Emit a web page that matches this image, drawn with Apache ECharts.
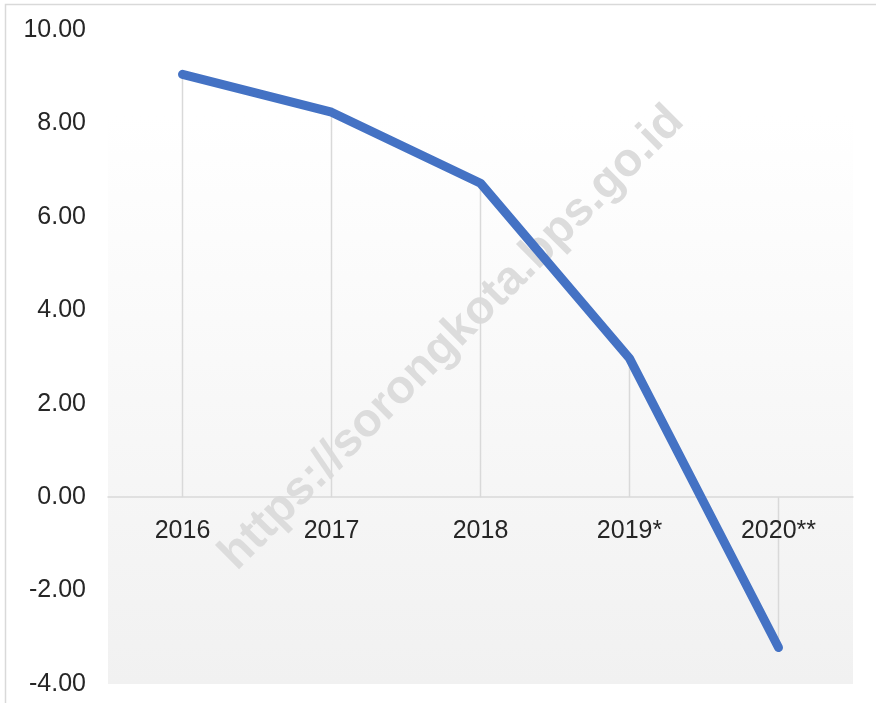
<!DOCTYPE html>
<html>
<head>
<meta charset="utf-8">
<script src="https://cdn.jsdelivr.net/npm/echarts@6/dist/echarts.min.js"></script>
<style>
  html, body { margin: 0; padding: 0; background: #fff; }
  #container { width: 876px; height: 703px; }
</style>
</head>
<body>
<div id="container"></div>
<script>
var years = ['2016', '2017', '2018', '2019*', '2020**'];
var growth = [9.05, 8.24, 6.72, 2.97, -3.22];
var yTicks = { min: -4, max: 10, interval: 2 };

var chart = echarts.init(document.getElementById('container'));
chart.setOption({
    animation: false,
    textStyle: { fontFamily: 'Liberation Sans, Arial, sans-serif' },
    grid: {
        left: 108, right: 23, top: 30, bottom: 19,
        outerBoundsMode: 'none',
        containLabel: false,
        show: true,
        borderWidth: 0,
        backgroundColor: new echarts.graphic.LinearGradient(0, 0, 0, 1, [
            { offset: 0, color: '#ffffff' },
            { offset: 0.13, color: '#ffffff' },
            { offset: 1, color: '#f1f1f1' }
        ])
    },
    graphic: [
        {
            type: 'rect', z: -10, silent: true,
            shape: { x: 5.5, y: 4.5, width: 900, height: 720 },
            style: { fill: 'none', stroke: '#d9d9d9', lineWidth: 1.5 }
        },
        {
            type: 'text', z: 1, silent: true,
            x: 452, y: 338, rotation: Math.PI / 4,
            style: {
                text: 'https://sorongkota.bps.go.id',
                font: 'bold 47px Liberation Sans, Arial, sans-serif',
                fill: '#dcdcdc',
                align: 'center', verticalAlign: 'middle'
            }
        }
    ],
    xAxis: {
        type: 'category',
        data: years,
        boundaryGap: true,
        axisLine: { onZero: true, lineStyle: { color: '#d9d9d9', width: 1.5 } },
        axisTick: { show: false },
        axisLabel: { show: false },
        splitLine: { show: false },
        z: 3
    },
    yAxis: {
        type: 'value',
        min: yTicks.min, max: yTicks.max, interval: yTicks.interval,
        axisLine: { show: false },
        axisTick: { show: false },
        splitLine: { show: false },
        axisLabel: {
            color: '#262626', fontSize: 25, margin: 22,
            formatter: function (v) { return v.toFixed(2); }
        }
    },
    series: [
        {
            // drop lines from each point to the zero axis
            type: 'bar',
            data: growth,
            barWidth: 1.5,
            itemStyle: { color: '#d9d9d9' },
            silent: true,
            z: 2
        },
        {
            // category labels sitting just under the zero line
            type: 'scatter',
            data: years.map(function (y) { return [y, 0]; }),
            symbolSize: 0,
            itemStyle: { color: '#262626', opacity: 1 },
            silent: true,
            label: {
                show: true,
                position: 'bottom',
                distance: 21,
                color: '#262626',
                opacity: 1,
                fontSize: 25,
                formatter: function (p) { return p.value[0]; }
            },
            z: 6
        },
        {
            type: 'line',
            data: growth,
            symbol: 'none',
            lineStyle: { color: '#4472c4', width: 9, cap: 'round', join: 'round' },
            z: 5
        }
    ]
});
</script>
</body>
</html>
